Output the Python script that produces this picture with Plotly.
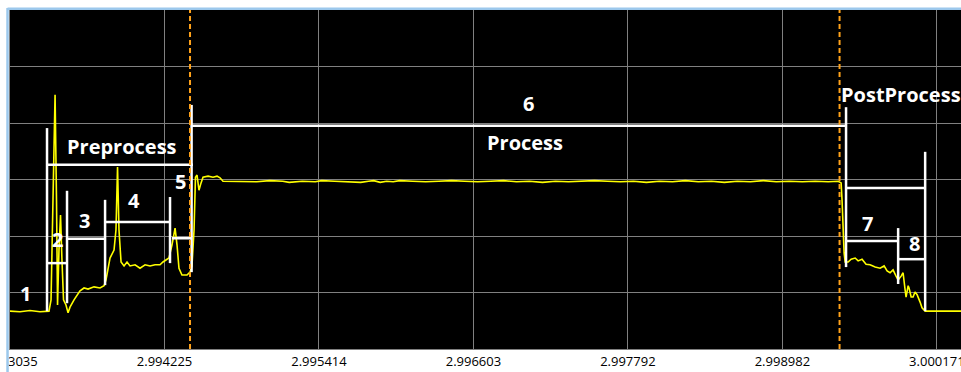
import plotly.graph_objects as go

# Capture start time (s) and sample times relative to it (microseconds)
T0 = 2.993035
X_END_US = 7322

t_us = [
    0, 77, 154, 231, 300, 316, 331, 347, 358, 366, 377, 389, 400, 412, 431, 447,
    462, 493, 539, 570, 601, 647, 693, 724, 739, 770, 801, 816, 828, 839, 855,
    878, 901, 924, 963, 1001, 1040, 1078, 1117, 1155, 1178, 1201, 1224, 1247,
    1271, 1286, 1301, 1324, 1363, 1386, 1401, 1417, 1428, 1440, 1455, 1471,
    1486, 1525, 1563, 1594, 1617, 1640, 1679,
    1800, 1900, 2000, 2100, 2150, 2250, 2350, 2400, 2500, 2600, 2700, 2760,
    2800, 2850, 2900, 2950, 3000, 3100, 3200, 3300, 3400, 3500, 3600, 3700,
    3800, 3900, 4000, 4100, 4200, 4300, 4400, 4500, 4600, 4700, 4800, 4900,
    5000, 5100, 5200, 5300, 5400, 5500, 5600, 5700, 5800, 5900, 6000, 6100,
    6200, 6300, 6376,
    6399, 6406, 6414, 6422, 6430, 6453, 6476, 6507, 6530, 6560, 6591, 6622,
    6661, 6699, 6730, 6753, 6776, 6799, 6822, 6838, 6861, 6876, 6892, 6899,
    6915, 6922, 6938, 6953, 6968, 6984, 7007, 7022, 7046, 7200, 7322,
]
signal = [
    0.67, 0.66, 0.68, 0.66, 0.67, 0.87, 2.64, 4.50, 2.64, 0.78, 1.75, 2.37,
    1.58, 0.87, 0.78, 0.64, 0.74, 0.87, 1.03, 1.08, 1.06, 1.10, 1.08, 1.12,
    1.22, 1.61, 1.75, 2.11, 3.22, 2.11, 1.54, 1.47, 1.54, 1.47, 1.49, 1.43,
    1.49, 1.47, 1.49, 1.49, 1.54, 1.58, 1.61, 1.84, 2.14, 1.84, 1.43, 1.31,
    1.31, 1.36, 1.47, 2.11, 3.04, 3.08, 2.81, 2.94, 3.04, 3.06, 3.04, 3.06,
    3.03, 2.97, 2.97,
    2.97, 2.96, 2.98, 2.97, 2.95, 2.97, 2.96, 2.98, 2.97, 2.96, 2.95, 2.97,
    2.98, 2.95, 2.97, 2.96, 2.98, 2.97, 2.96, 2.97, 2.98, 2.97, 2.96, 2.97,
    2.98, 2.96, 2.97, 2.95, 2.97, 2.96, 2.97, 2.98, 2.97, 2.96, 2.97, 2.95,
    2.97, 2.96, 2.98, 2.96, 2.97, 2.95, 2.97, 2.96, 2.98, 2.96, 2.97, 2.96,
    2.97, 2.96, 2.97,
    2.94, 2.64, 2.11, 1.70, 1.54, 1.54, 1.59, 1.61, 1.56, 1.59, 1.50, 1.49,
    1.45, 1.43, 1.47, 1.38, 1.35, 1.40, 1.29, 1.22, 1.29, 1.35, 1.04, 0.92,
    1.12, 1.08, 0.92, 0.92, 1.01, 0.96, 0.83, 0.73, 0.67, 0.67, 0.67,
]

# Phase boundaries (us): vertical marker bars with their low/high extent
bar_t = [285, 439, 732, 1232, 1398, 6437, 6838, 7046]
bar_lo = [0.67, 0.81, 1.13, 1.52, 1.36, 1.45, 1.15, 0.67]
bar_hi = [3.91, 2.80, 2.64, 2.69, 4.32, 4.28, 2.14, 3.49]

# Horizontal duration spans: start (us), end (us), level
span_t0 = [285, 1398, 6437, 285, 439, 732, 1247, 6437, 6838]
span_t1 = [1409, 6437, 7046, 439, 732, 1232, 1398, 6838, 7046]
span_y = [3.26, 3.95, 2.85, 1.52, 1.95, 2.25, 1.96, 1.91, 1.59]

# Phase labels
label_text = ["1", "2", "3", "4", "5", "6", "7", "8", "Preprocess", "Process"]
label_t = [116, 362, 570, 955, 1309, 3989, 6599, 6961, 862, 3966]
label_y = [0.99, 1.93, 2.28, 2.62, 2.96, 4.35, 2.23, 1.86, 3.59, 3.65]
post_label = "PostProcess"
post_t, post_y = 6399, 4.51

# Cursor markers (us)
cursor_t = [1386, 6387]

# Axis ticks
tick_vals = [2.993035, 2.994225, 2.995414, 2.996603, 2.997792, 2.998982, 3.000171]
tick_text = ["2.993035", "2.994225", "2.995414", "2.996603", "2.997792", "2.998982", "3.000171"]


def sec(us):
    return T0 + us * 1e-6


fig = go.Figure()
fig.add_trace(go.Scatter(
    x=[sec(t) for t in t_us], y=signal, mode="lines",
    line=dict(color="#ffff00", width=1.6), hoverinfo="skip",
))

WHITE = "#ffffff"
for t, lo, hi in zip(bar_t, bar_lo, bar_hi):
    fig.add_shape(type="line", xref="x", yref="y", x0=sec(t), x1=sec(t), y0=lo, y1=hi,
                  line=dict(color=WHITE, width=2.5))
for a, b, y in zip(span_t0, span_t1, span_y):
    fig.add_shape(type="line", xref="x", yref="y", x0=sec(a), x1=sec(b), y0=y, y1=y,
                  line=dict(color=WHITE, width=2.5))
for t in cursor_t:
    fig.add_shape(type="line", xref="x", yref="paper", x0=sec(t), x1=sec(t), y0=0, y1=1,
                  line=dict(color="#ffa21a", width=2, dash="5px,3px"))

label_font = dict(family="Open Sans", size=20, color=WHITE)
for txt, t, y in zip(label_text, label_t, label_y):
    fig.add_annotation(x=sec(t), y=y, text=f"<b>{txt}</b>", showarrow=False,
                       xanchor="center", yanchor="middle", font=label_font)
fig.add_annotation(x=sec(post_t), y=post_y, text=f"<b>{post_label}</b>", showarrow=False,
                   xanchor="left", yanchor="middle", font=label_font, xshift=-2)

# Window frame: white surround with a light blue edge on the left and top
fig.add_shape(type="rect", xref="paper", yref="paper", x0=-0.02, x1=-0.0021, y0=-0.2, y1=1.05,
              fillcolor="white", line=dict(width=0), layer="above")
fig.add_shape(type="line", xref="paper", yref="paper", x0=-0.0026, x1=-0.0026, y0=-0.075, y1=1.006,
              line=dict(color="#9cc8ec", width=2.5), layer="above")
fig.add_shape(type="line", xref="paper", yref="paper", x0=-0.0026, x1=1.0, y0=1.004, y1=1.004,
              line=dict(color="#9cc8ec", width=2.5), layer="above")

GRID = "#808080"
fig.update_layout(
    width=961, height=372,
    margin=dict(l=10, r=0, t=10, b=23, autoexpand=False),
    paper_bgcolor="white", plot_bgcolor="black",
    showlegend=False,
    xaxis=dict(range=[T0, sec(X_END_US)], tickvals=tick_vals, ticktext=tick_text,
               automargin=False,
               showgrid=True, gridcolor=GRID, gridwidth=1, zeroline=False,
               showline=True, linecolor=GRID, linewidth=1, ticks="",
               ticklabeloverflow="allow",
               tickfont=dict(family="Open Sans", size=13, color="#000000")),
    yaxis=dict(range=[0, 6], dtick=1, showgrid=True, gridcolor=GRID, gridwidth=1,
               automargin=False,
               zeroline=False, showticklabels=False, ticks="",
               showline=True, linecolor=GRID, linewidth=1),
)

fig.write_html("out.html")
